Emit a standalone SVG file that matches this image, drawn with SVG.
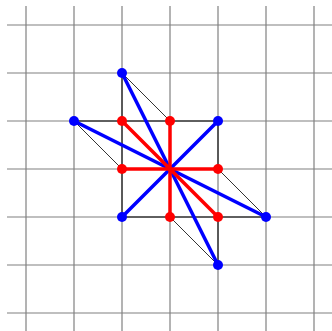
<svg xmlns="http://www.w3.org/2000/svg" width="332" height="331" viewBox="0 0 332 331">
<style>
.grid line{stroke:#808080;stroke-width:1.2}
.edge{stroke:#000;stroke-width:1;fill:none}
.thin{stroke:#000;stroke-width:0.8}
.blue{stroke:#0000ff;stroke-width:3.5;stroke-linecap:round}
.red{stroke:#ff0000;stroke-width:3.5;stroke-linecap:round}
.bd{fill:#0000ff}
.rd{fill:#ff0000}
</style>
<rect width="332" height="331" fill="#fff"/>
<g class="grid">
<line x1="26" y1="6" x2="26" y2="331"/>
<line x1="74" y1="6" x2="74" y2="331"/>
<line x1="122" y1="6" x2="122" y2="331"/>
<line x1="170" y1="6" x2="170" y2="331"/>
<line x1="218" y1="6" x2="218" y2="331"/>
<line x1="266" y1="6" x2="266" y2="331"/>
<line x1="314" y1="6" x2="314" y2="331"/>
<line x1="7" y1="25" x2="332" y2="25"/>
<line x1="7" y1="73" x2="332" y2="73"/>
<line x1="7" y1="121" x2="332" y2="121"/>
<line x1="7" y1="169" x2="332" y2="169"/>
<line x1="7" y1="217" x2="332" y2="217"/>
<line x1="7" y1="265" x2="332" y2="265"/>
<line x1="7" y1="313" x2="332" y2="313"/>
</g>
<g id="connectors">
<path class="edge" d="M122 73V121H74M122 121H218V169M122 121V217H218M218 217V265M218 217H266"/>
<line class="thin" x1="122" y1="73" x2="170" y2="121"/>
<line class="thin" x1="74" y1="121" x2="122" y2="169"/>
<line class="thin" x1="218" y1="169" x2="266" y2="217"/>
<line class="thin" x1="170" y1="217" x2="218" y2="265"/>
<line class="blue" x1="170" y1="169" x2="122" y2="73"/>
<line class="blue" x1="170" y1="169" x2="74" y2="121"/>
<line class="blue" x1="170" y1="169" x2="218" y2="121"/>
<line class="blue" x1="170" y1="169" x2="122" y2="217"/>
<line class="blue" x1="170" y1="169" x2="266" y2="217"/>
<line class="blue" x1="170" y1="169" x2="218" y2="265"/>
<line class="red" x1="170" y1="169" x2="122" y2="121"/>
<line class="red" x1="170" y1="169" x2="170" y2="121"/>
<line class="red" x1="170" y1="169" x2="122" y2="169"/>
<line class="red" x1="170" y1="169" x2="218" y2="169"/>
<line class="red" x1="170" y1="169" x2="170" y2="217"/>
<line class="red" x1="170" y1="169" x2="218" y2="217"/>
</g>
<g id="b1"><circle class="bd" cx="122" cy="73" r="5"/></g>
<g id="b2"><circle class="bd" cx="74" cy="121" r="5"/></g>
<g id="b3"><circle class="bd" cx="218" cy="121" r="5"/></g>
<g id="b4"><circle class="bd" cx="122" cy="217" r="5"/></g>
<g id="b5"><circle class="bd" cx="266" cy="217" r="5"/></g>
<g id="b6"><circle class="bd" cx="218" cy="265" r="5"/></g>
<g id="r1"><circle class="rd" cx="122" cy="121" r="5"/></g>
<g id="r2"><circle class="rd" cx="170" cy="121" r="5"/></g>
<g id="r3"><circle class="rd" cx="122" cy="169" r="5"/></g>
<g id="r4"><circle class="rd" cx="218" cy="169" r="5"/></g>
<g id="r5"><circle class="rd" cx="170" cy="217" r="5"/></g>
<g id="r6"><circle class="rd" cx="218" cy="217" r="5"/></g>
</svg>
